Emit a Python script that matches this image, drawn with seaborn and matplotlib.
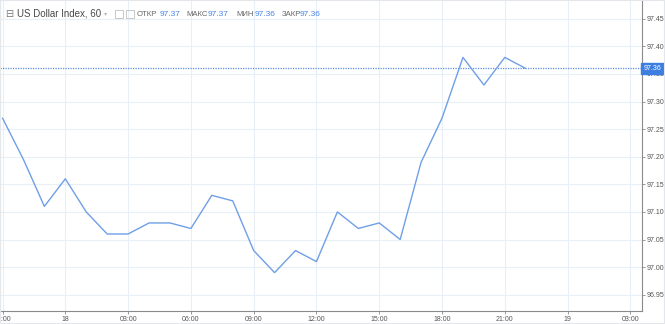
import matplotlib
matplotlib.use("Agg")
import matplotlib.pyplot as plt
import seaborn as sns
import pandas as pd
from matplotlib.patches import Rectangle

# ---- data ----
hours = ["21:00", "22:00", "23:00", "00:00", "01:00", "02:00", "03:00", "04:00",
         "05:00", "06:00", "07:00", "08:00", "09:00", "10:00", "11:00", "12:00",
         "13:00", "14:00", "15:00", "16:00", "17:00", "18:00", "19:00", "20:00",
         "21:00", "22:00"]
values = [97.27, 97.195, 97.11, 97.16, 97.10, 97.06, 97.06, 97.08,
          97.08, 97.07, 97.13, 97.12, 97.03, 96.99, 97.03, 97.01,
          97.10, 97.07, 97.08, 97.05, 97.19, 97.27, 97.38, 97.33,
          97.38, 97.36]
tick_labels = ["21:00", "18", "03:00", "06:00", "09:00", "12:00", "15:00",
               "18:00", "21:00", "19", "03:00"]
y_ticks = [96.95, 97.00, 97.05, 97.10, 97.15, 97.20, 97.25, 97.30, 97.35, 97.40, 97.45]
last_price = 97.36
title = "US Dollar Index, 60"
ohlc_labels = ["ОТКР", "МАКС", "МИН", "ЗАКР"]
ohlc_values = ["97.37", "97.37", "97.36", "97.36"]

df = pd.DataFrame({"i": range(len(values)), "price": values, "hour": hours})

sns.set_theme(style="white")
plt.rcParams["font.family"] = ["Liberation Sans", "DejaVu Sans"]

W, H = 665, 324
fig = plt.figure(figsize=(W / 100, H / 100), dpi=100)
fig.patch.set_facecolor("white")
ax = fig.add_axes([0, 13.3 / H, 641.5 / W, 1 - 13.3 / H])

grid_c = "#e9eff6"
sns.lineplot(data=df, x="i", y="price", ax=ax, color="#6f9fe6", linewidth=1.0, zorder=3)

ax.set_xlim(-0.12, 30.53)
ax.set_ylim(96.921, 97.484)

ax.set_xticks([0, 3, 6, 9, 12, 15, 18, 21, 24, 27, 30])
ax.set_xticklabels(tick_labels)
ax.set_yticks(y_ticks)
ax.set_yticklabels([f"{v:.2f}" for v in y_ticks])
ax.yaxis.tick_right()
ax.grid(True, color=grid_c, linewidth=0.8)
ax.set_axisbelow(True)
ax.set_xlabel("")
ax.set_ylabel("")

for s in ["top", "left"]:
    ax.spines[s].set_visible(False)
for s in ["right", "bottom"]:
    ax.spines[s].set_color("#8a8a8a")
    ax.spines[s].set_linewidth(0.8)

ax.tick_params(axis="y", which="both", right=True, length=2.5, width=0.6, color="#8a8a8a",
               labelsize=5, labelcolor="#555555", pad=1)
ax.tick_params(axis="x", which="both", bottom=True, length=2, width=0.6, color="#8a8a8a",
               labelsize=5, labelcolor="#555555", pad=1.5)

# last price dotted line + label box
ax.axhline(last_price, color="#5d8fe0", linestyle=(0, (1, 1)), linewidth=0.9, zorder=2)
ax.annotate(f"{last_price:.2f}", xy=(1.0, last_price), xycoords=("axes fraction", "data"),
            xytext=(1.5, 0), textcoords="offset points", ha="left", va="center",
            fontsize=5, color="white", annotation_clip=False, zorder=10,
            bbox=dict(boxstyle="square,pad=0.35", fc="#3d7ee0", ec="#3d7ee0"))

# header
yh = 1 - 14 / H
fig.text(5 / W, yh, "⊟", fontsize=7, color="#777777", va="center", ha="left",
         family=["DejaVu Sans"])
fig.text(17 / W, yh, title, fontsize=7, color="#4a4a4a", va="center", ha="left")
fig.text(104 / W, yh, "▾", fontsize=4.5, color="#b8b8b8", va="center", ha="left",
         family=["DejaVu Sans"])
for x0 in (115, 126):
    fig.patches.append(Rectangle((x0 / W, 1 - 18 / H), 8 / W, 8 / H, transform=fig.transFigure,
                                 fill=False, ec="#c8c8c8", lw=0.7))
label_x = [137, 186, 236, 282]
value_x = [160, 208, 255, 300]
for lab, val, lx, vx in zip(ohlc_labels, ohlc_values, label_x, value_x):
    fig.text(lx / W, yh, lab, fontsize=5.6, color="#666666", va="center", ha="left")
    fig.text(vx / W, yh, val, fontsize=6, color="#4a86e8", va="center", ha="left")

# light outer frame
fig.patches.append(Rectangle((0, 0), 1, 1, transform=fig.transFigure, fill=False,
                             ec="#e3e6ea", lw=1.5))

fig.savefig("out.png", dpi=100)
